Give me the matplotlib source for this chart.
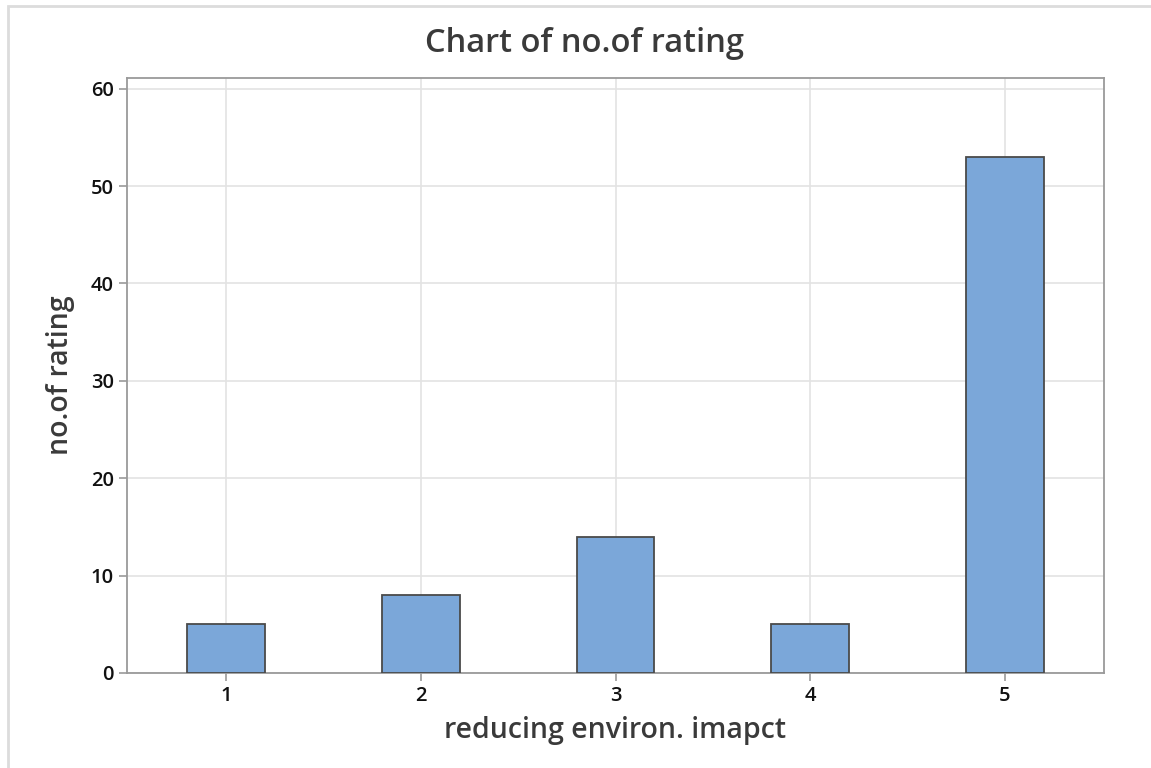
import matplotlib.pyplot as plt
from matplotlib.patches import Rectangle

categories = ['1', '2', '3', '4', '5']
counts = [5, 8, 14, 5, 53]
yticks = [0, 10, 20, 30, 40, 50, 60]

plt.rcParams['font.family'] = ['Open Sans', 'DejaVu Sans']

fig = plt.figure(figsize=(11.51, 7.68), dpi=100)
fig.patch.set_facecolor('white')

# light outer frame, open to the right and bottom like the screenshot
fig.add_artist(Rectangle((8 / 1151, -0.1), 1.2, (768 - 6) / 768 + 0.1,
                         transform=fig.transFigure, fill=False,
                         edgecolor='#dcdcdc', linewidth=2))

ax = fig.add_axes([127 / 1151, 1 - 673 / 768, (1104 - 127) / 1151, (673 - 78) / 768])

x = range(len(categories))
ax.bar(x, counts, width=0.4, color='#7ba7d9', edgecolor='#4a4a4a',
       linewidth=1.3, zorder=3)

ax.set_xlim(-0.508, 4.508)
ax.set_ylim(0, 61.1)
ax.set_xticks(list(x))
ax.set_xticklabels(categories)
ax.set_yticks(yticks)

ax.grid(True, color='#e3e3e3', linewidth=1.2, zorder=0)
for s in ax.spines.values():
    s.set_color('#9a9a9a')
    s.set_linewidth(1.3)
ax.tick_params(colors='#9a9a9a', length=6, width=1.2, labelcolor='#111111',
               labelsize=14.5)
for lab in ax.get_xticklabels() + ax.get_yticklabels():
    lab.set_fontweight('semibold')

# title is centred on the figure rather than on the plot area
ax.set_title('Chart of no.of rating', fontsize=23.5, color='#3a3a3a',
             fontweight='semibold', pad=19, x=0.468)
ax.set_xlabel('reducing environ. imapct', fontsize=20.5, color='#3a3a3a',
              fontweight='semibold', labelpad=7)
ax.set_ylabel('no.of rating', fontsize=20.5, color='#3a3a3a',
              fontweight='semibold', labelpad=11)

fig.savefig('out.png', dpi=100)
